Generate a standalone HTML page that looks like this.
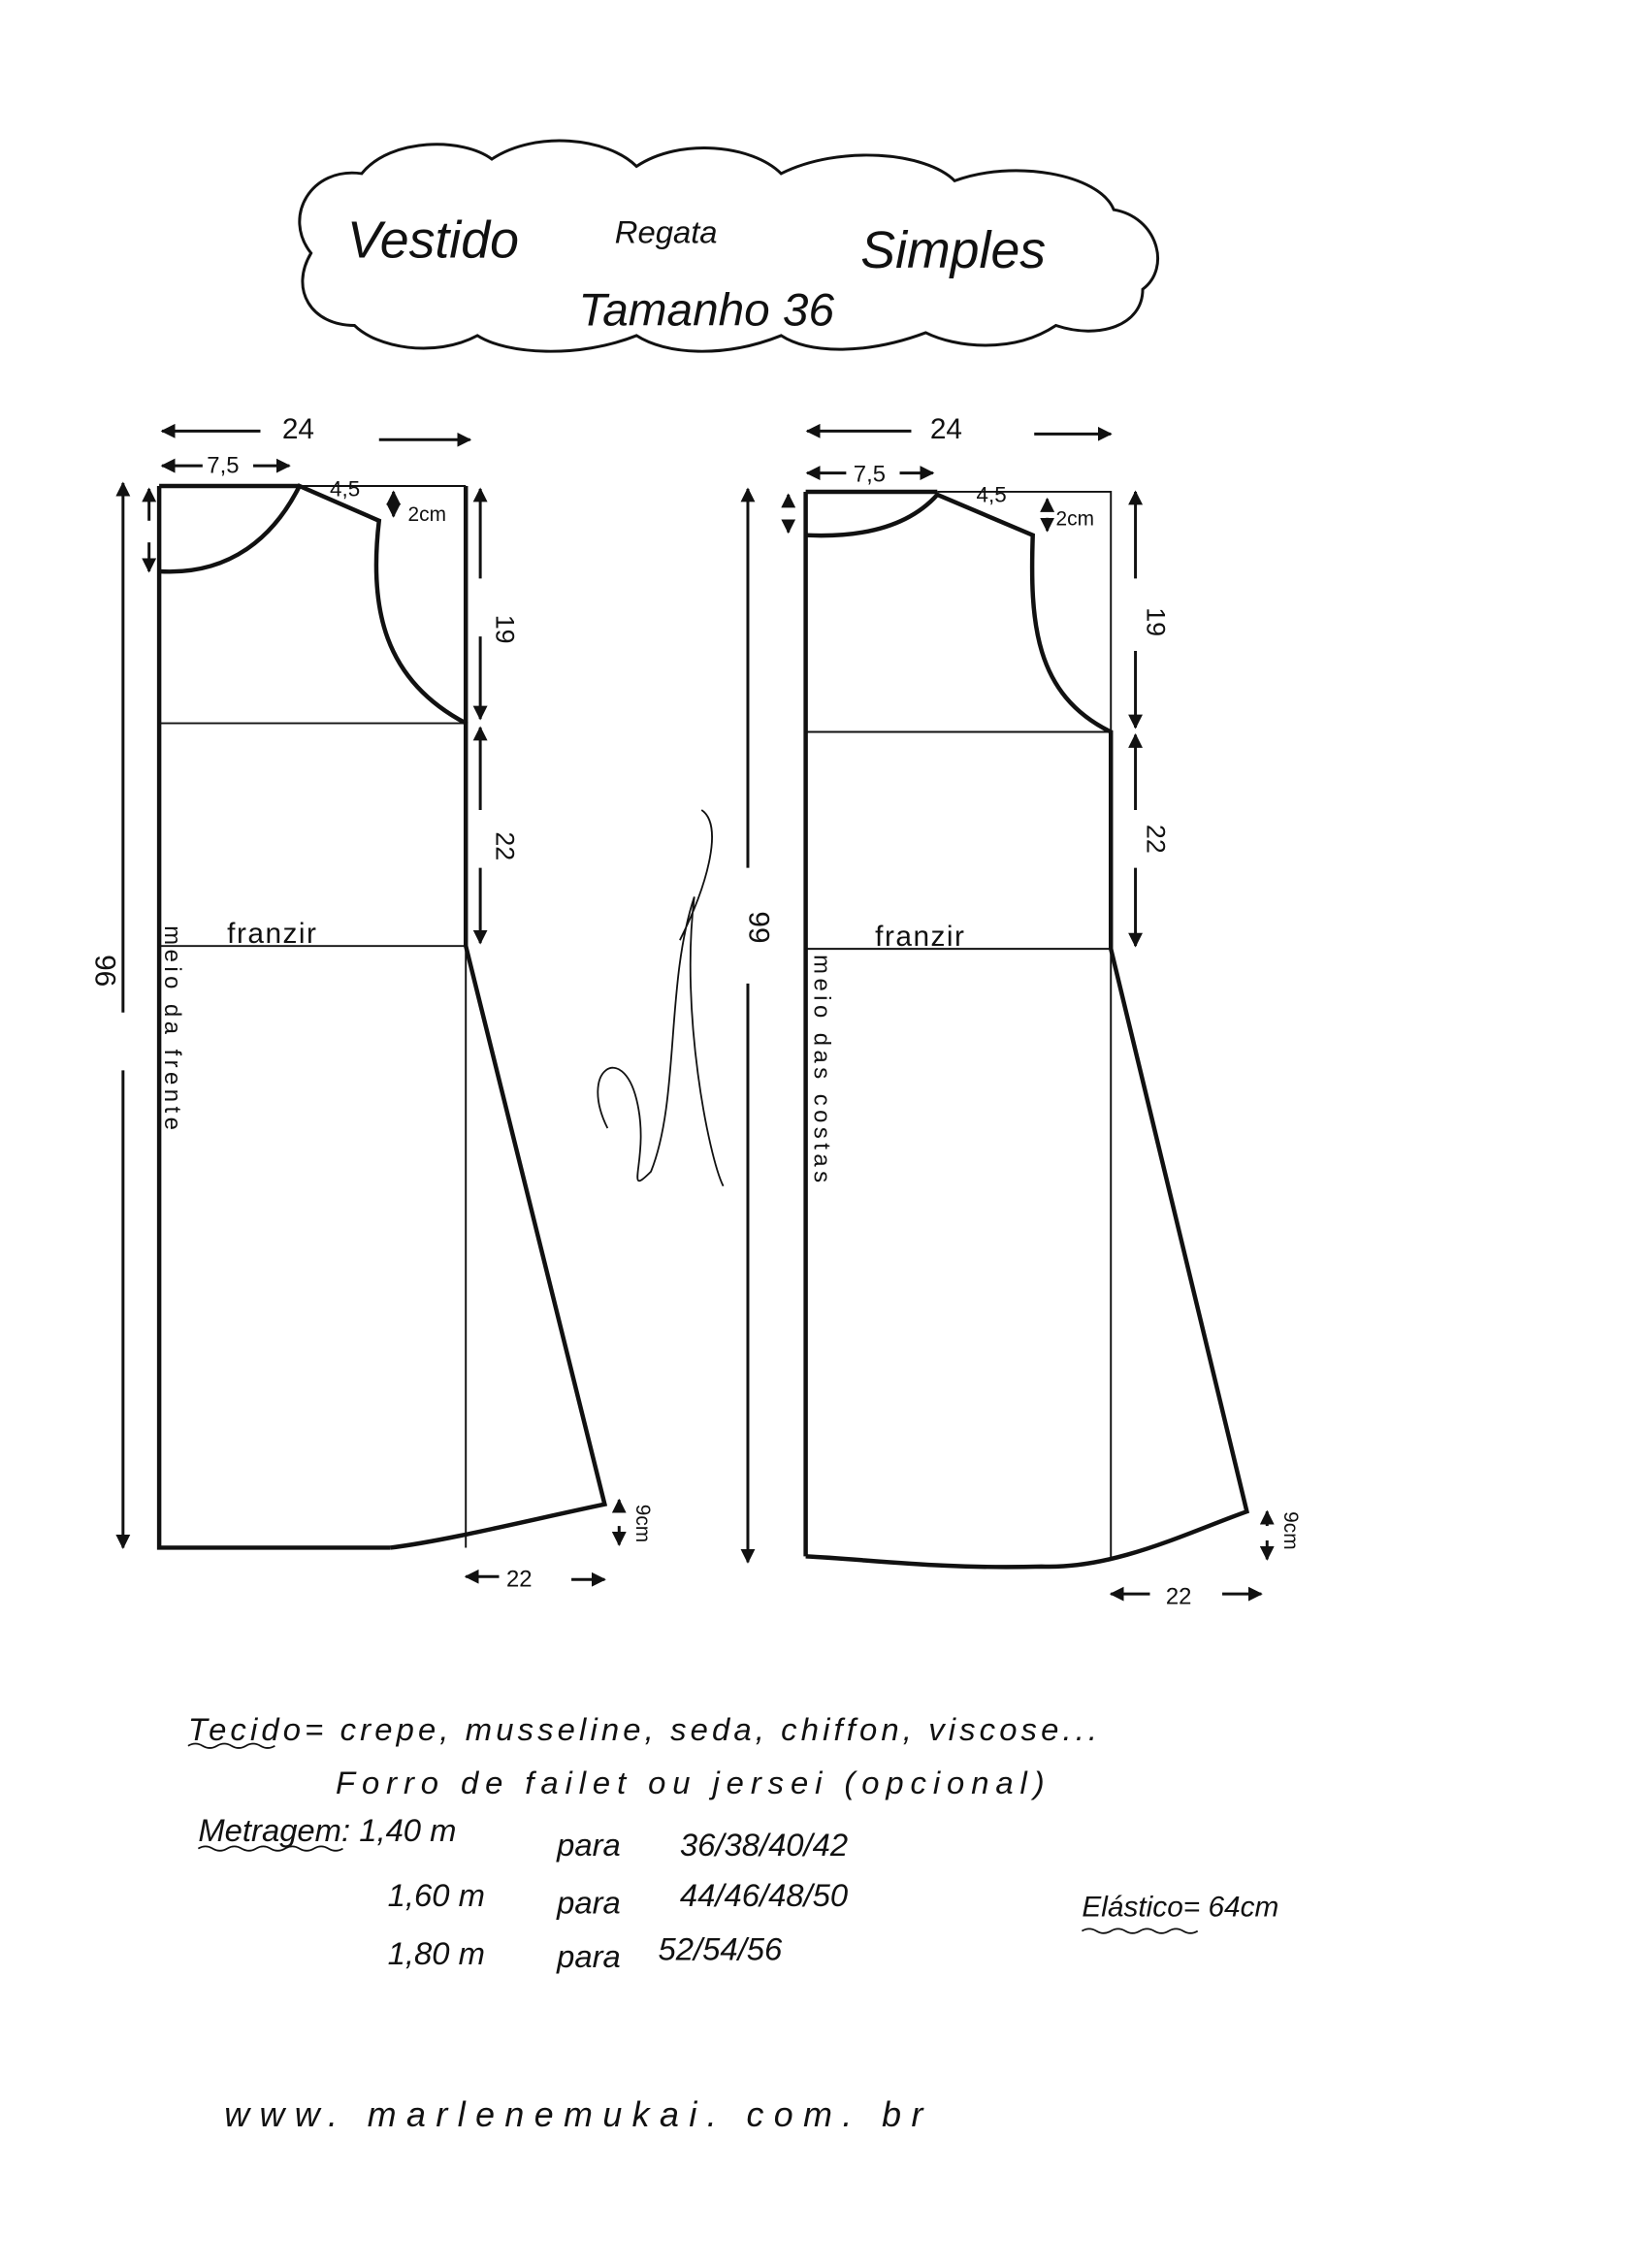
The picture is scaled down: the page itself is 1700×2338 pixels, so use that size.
<!DOCTYPE html>
<html><head><meta charset="utf-8"><style>
html,body{margin:0;padding:0;background:#fff}
svg{display:block}
text{font-family:"Liberation Sans",sans-serif;fill:#111}
</style></head><body>
<svg width="1700" height="2338" viewBox="0 0 1140 1568" xmlns="http://www.w3.org/2000/svg">
<defs><marker id="a" viewBox="0 0 10 10" refX="9" refY="5" markerWidth="5" markerHeight="5" orient="auto-start-reverse"><path d="M0,0 L10,5 L0,10 z" fill="#111"/></marker></defs>
<g fill="none" stroke="#111">
<path d="M215,175 C195,150 215,115 250,120 C270,95 320,95 340,110 C370,90 420,95 440,115 C470,95 520,100 540,120 C580,100 640,105 660,125 C700,110 760,120 770,145 C800,150 810,185 790,200 C790,225 760,235 730,225 C700,245 660,240 640,230 C600,245 560,245 540,232 C500,248 460,245 440,232 C400,248 350,245 330,232 C300,248 260,240 245,225 C215,225 200,200 215,175 Z" stroke-width="2"/>
<g stroke-width="3">
<path d="M110,336 L207,336 M322,336 L322,500 M110,336 L110,1070 L270,1070"/>
<path d="M110,395 C160,398 190,370 207,336 L262,360 C255,420 265,470 322,500 L322,654 L418,1040 C370,1050 310,1065 270,1070"/>
</g>
<g stroke-width="1.3">
<path d="M207,336 L322,336 M110,500 L322,500 M110,654 L322,654 M322,654 L322,1070 M270,1070 L110,1070"/>
</g>
<g stroke-width="3">
<path d="M557,340 L648,340 M557,340 L557,1076"/>
<path d="M557,370 C600,372 630,362 648,342 L714,370 C712,430 715,480 768,506 L768,656 L862,1045 C820,1060 770,1085 720,1083 C650,1085 600,1078 557,1076"/>
</g>
<g stroke-width="1.3">
<path d="M648,340 L768,340 L768,506 M557,506 L768,506 M557,656 L768,656 M768,656 L768,1078"/>
</g>
<g stroke-width="2" marker-end="url(#a)">
<path d="M180,298 L112,298"/><path d="M262,304 L325,304"/>
<path d="M140,322 L112,322"/><path d="M175,322 L200,322"/>
<path d="M85,700 L85,334"/><path d="M85,740 L85,1070"/>
<path d="M103,360 L103,338"/><path d="M103,375 L103,395"/>
<path d="M272,345 L272,340"/><path d="M272,350 L272,357"/>
<path d="M332,400 L332,338"/><path d="M332,440 L332,497"/>
<path d="M332,560 L332,503"/><path d="M332,600 L332,652"/>
<path d="M428,1045 L428,1037"/><path d="M428,1055 L428,1068"/>
<path d="M345,1090 L322,1090"/><path d="M395,1092 L418,1092"/>
</g>
<g stroke-width="2" marker-end="url(#a)">
<path d="M630,298 L558,298"/><path d="M715,300 L768,300"/>
<path d="M585,327 L558,327"/><path d="M622,327 L645,327"/>
<path d="M517,600 L517,338"/><path d="M517,680 L517,1080"/>
<path d="M545,350 L545,342"/><path d="M545,360 L545,368"/>
<path d="M724,350 L724,345"/><path d="M724,358 L724,367"/>
<path d="M785,400 L785,340"/><path d="M785,450 L785,503"/>
<path d="M785,560 L785,508"/><path d="M785,600 L785,654"/>
<path d="M876,1055 L876,1045"/><path d="M876,1065 L876,1078"/>
<path d="M795,1102 L768,1102"/><path d="M845,1102 L872,1102"/>
</g>
<path d="M130,1207 q5,-3 10,0 t10,0 t10,0 t10,0 t10,0 t10,0" stroke-width="1.2"/>
<path d="M137,1278 q5,-3 10,0 t10,0 t10,0 t10,0 t10,0 t10,0 t10,0 t10,0 t10,0 t10,0" stroke-width="1.2"/>
<path d="M748,1335 q5,-3 10,0 t10,0 t10,0 t10,0 t10,0 t10,0 t10,0 t10,0" stroke-width="1.2"/>
<path d="M420,780 C400,740 430,720 440,760 C450,800 430,830 450,810 C470,760 460,680 480,620 C470,700 490,800 500,820 M470,650 C490,610 500,570 485,560" stroke-width="1.2"/>
</g>
<text x="240" y="178" font-size="36" font-style="italic">Vestido</text>
<text x="425" y="168" font-size="22" font-style="italic">Regata</text>
<text x="595" y="185" font-size="36" font-style="italic">Simples</text>
<text x="400" y="225" font-size="32" font-style="italic">Tamanho 36</text>
<text x="195" y="303" font-size="20">24</text>
<text x="143" y="327" font-size="16">7,5</text>
<text x="228" y="343" font-size="15">4,5</text>
<text x="282" y="360" font-size="14">2cm</text>
<text x="643" y="303" font-size="20">24</text>
<text x="590" y="333" font-size="16">7,5</text>
<text x="675" y="347" font-size="15">4,5</text>
<text x="730" y="363" font-size="14">2cm</text>
<text x="157" y="652" font-size="20" letter-spacing="1">franzir</text>
<text x="605" y="654" font-size="20" letter-spacing="1">franzir</text>
<text transform="translate(343,425) rotate(90)" font-size="18">19</text>
<text transform="translate(343,575) rotate(90)" font-size="18">22</text>
<text transform="translate(793,420) rotate(90)" font-size="18">19</text>
<text transform="translate(793,570) rotate(90)" font-size="18">22</text>
<text transform="translate(66,660) rotate(90)" font-size="20">96</text>
<text transform="translate(518,630) rotate(90)" font-size="20">99</text>
<text transform="translate(114,640) rotate(90)" font-size="16" letter-spacing="3">meio    da    frente</text>
<text transform="translate(563,660) rotate(90)" font-size="16" letter-spacing="3">meio   das   costas</text>
<text transform="translate(440,1040) rotate(90)" font-size="14">9cm</text>
<text transform="translate(888,1045) rotate(90)" font-size="14">9cm</text>
<text x="350" y="1097" font-size="16">22</text>
<text x="806" y="1109" font-size="16">22</text>
<g font-size="22" font-style="italic">
<text x="130" y="1203" letter-spacing="1.5" textLength="630">Tecido= crepe, musseline, seda, chiffon, viscose...</text>
<text x="232" y="1240" textLength="490">Forro  de  failet  ou  jersei (opcional)</text>
<text x="137" y="1273">Metragem: 1,40 m</text>
<text x="385" y="1283">para</text><text x="470" y="1283">36/38/40/42</text>
<text x="268" y="1318">1,60 m</text><text x="385" y="1323">para</text><text x="470" y="1318">44/46/48/50</text>
<text x="268" y="1358">1,80 m</text><text x="385" y="1360">para</text><text x="455" y="1355">52/54/56</text>
<text x="748" y="1325" font-size="20">Elástico= 64cm</text>
<text x="155" y="1470" font-size="24" letter-spacing="2" textLength="485">www. marlenemukai. com. br</text>
</g>
</svg>
</body></html>
